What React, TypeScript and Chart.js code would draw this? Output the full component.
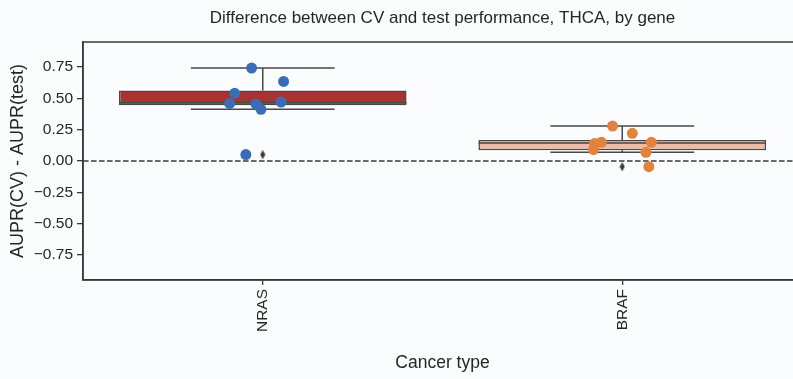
import { useEffect, useRef } from "react";
import { Chart, registerables } from "chart.js";

Chart.register(...registerables);

// Per-gene AUPR(CV) - AUPR(test) differences, one value per model run
const genes = ["NRAS", "BRAF"];
const nrasDiff = [0.742, 0.635, 0.54, 0.46, 0.455, 0.413, 0.471, 0.051];
const brafDiff = [0.279, 0.221, 0.149, 0.139, 0.091, 0.149, 0.069, -0.045];
// horizontal strip-plot jitter, in category units
const nrasJitter = [-0.031, 0.058, -0.078, -0.092, -0.019, -0.005, 0.051, -0.047];
const brafJitter = [-0.027, 0.028, -0.058, -0.077, -0.08, 0.081, 0.066, 0.074];
const yTicks = [-0.75, -0.5, -0.25, 0, 0.25, 0.5, 0.75];

const boxFill = ["#a83232", "#efbba6"];
const pointColor = ["#3b6cb6", "#e3823f"];
const lineColor = "#474747";
const frameColor = "#3a3a3a";
const textColor = "#262626";
const FONT = "'Liberation Sans', Arial, Helvetica, sans-serif";

function quantile(sorted: number[], q: number) {
  const pos = (sorted.length - 1) * q;
  const lo = Math.floor(pos);
  const hi = Math.ceil(pos);
  return sorted[lo] + (sorted[hi] - sorted[lo]) * (pos - lo);
}

function boxStats(values: number[]) {
  const s = [...values].sort((a, b) => a - b);
  const q1 = quantile(s, 0.25);
  const med = quantile(s, 0.5);
  const q3 = quantile(s, 0.75);
  const iqr = q3 - q1;
  const inside = s.filter((v) => v >= q1 - 1.5 * iqr && v <= q3 + 1.5 * iqr);
  return {
    q1,
    med,
    q3,
    lo: Math.min(...inside),
    hi: Math.max(...inside),
    outliers: s.filter((v) => v < q1 - 1.5 * iqr || v > q3 + 1.5 * iqr),
  };
}

function diamondMarker() {
  const c = document.createElement("canvas");
  c.width = 6;
  c.height = 10;
  const ctx = c.getContext("2d")!;
  ctx.fillStyle = "#3a3a3a";
  ctx.beginPath();
  ctx.moveTo(3, 0.5);
  ctx.lineTo(5.6, 5);
  ctx.lineTo(3, 9.5);
  ctx.lineTo(0.4, 5);
  ctx.closePath();
  ctx.fill();
  return c;
}

const frame = {
  id: "frame",
  beforeDatasetsDraw(chart: any) {
    const { ctx, chartArea: a } = chart;
    ctx.save();
    ctx.strokeStyle = frameColor;
    ctx.lineWidth = 1.5;
    ctx.strokeRect(a.left, a.top, a.right - a.left, a.bottom - a.top);
    ctx.restore();
  },
};

export default function App() {
  const ref = useRef<HTMLCanvasElement | null>(null);

  useEffect(() => {
    if (!ref.current) return;
    const groups = [nrasDiff, brafDiff];
    const jitters = [nrasJitter, brafJitter];
    const stats = groups.map(boxStats);

    const whiskers: any[] = [];
    const gap = (x: number) => ({ x, y: null });
    stats.forEach((st, i) => {
      whiskers.push(
        { x: i - 0.2, y: st.hi }, { x: i + 0.2, y: st.hi }, gap(i),
        { x: i, y: st.q3 }, { x: i, y: st.hi }, gap(i),
        { x: i, y: st.q1 }, { x: i, y: st.lo }, gap(i),
        { x: i - 0.2, y: st.lo }, { x: i + 0.2, y: st.lo }, gap(i),
        { x: i - 0.4, y: st.med }, { x: i + 0.4, y: st.med }, gap(i)
      );
    });

    const outliers: any[] = [];
    stats.forEach((st, i) => st.outliers.forEach((v) => outliers.push({ x: i, y: v })));

    const fmt = (v: number) => v.toFixed(2).replace("-", "\u2212");

    const chart = new Chart(ref.current, {
      type: "bar",
      data: {
        datasets: [
          ...groups.map((vals, i) => ({
            type: "scatter" as const,
            data: vals.map((v, k) => ({ x: i + jitters[i][k], y: v })),
            backgroundColor: pointColor[i],
            borderWidth: 0,
            pointRadius: 5.5,
            order: 0,
          })),
          {
            type: "scatter" as const,
            data: outliers,
            pointStyle: diamondMarker(),
            pointRadius: 5,
            order: 0,
          },
          {
            type: "line" as const,
            data: whiskers,
            borderColor: lineColor,
            borderWidth: 1.5,
            pointRadius: 0,
            spanGaps: false,
            fill: false,
            order: 1,
          },
          {
            type: "bar" as const,
            data: stats.map((st, i) => ({ x: i, y: [st.q1, st.q3] })),
            backgroundColor: boxFill,
            borderColor: lineColor,
            borderWidth: 1.5,
            borderSkipped: false,
            barPercentage: 0.8,
            categoryPercentage: 1,
            order: 2,
          },
          {
            type: "line" as const,
            data: [{ x: -0.5, y: 0 }, { x: 1.5, y: 0 }],
            borderColor: "#3a3a3a",
            borderWidth: 1.5,
            borderDash: [5.5, 2.5],
            pointRadius: 0,
            fill: false,
            order: 3,
          },
        ] as any,
      },
      options: {
        animation: false,
        responsive: false,
        layout: { padding: { left: 0, right: 8, top: 0, bottom: 0 } },
        plugins: {
          legend: { display: false },
          tooltip: { enabled: false },
          title: {
            display: true,
            text: "Difference between CV and test performance, THCA, by gene",
            fullSize: false,
            color: textColor,
            font: { family: FONT, size: 17, weight: "normal" },
            padding: { top: 7.8, bottom: 13.8 },
          },
        },
        scales: {
          x: {
            type: "linear",
            min: -0.5,
            max: 1.5,
            offset: false,
            afterBuildTicks: (s: any) => {
              s.ticks = genes.map((_, i) => ({ value: i }));
            },
            afterFit: (s: any) => {
              s.height = 99;
            },
            grid: {
              display: true,
              offset: false,
              drawOnChartArea: false,
              drawTicks: true,
              tickLength: 5,
              color: frameColor,
              lineWidth: 1.3,
            },
            border: { display: true, color: frameColor, width: 1.5 },
            ticks: {
              autoSkip: false,
              minRotation: 90,
              maxRotation: 90,
              padding: 4,
              color: textColor,
              font: { family: FONT, size: 15.5 },
              callback: (v: any) => genes[Number(v)] ?? "",
            },
            title: {
              display: true,
              text: "Cancer type",
              color: textColor,
              font: { family: FONT, size: 17.5 },
              padding: { top: 4, bottom: 5.5 },
            },
          },
          y: {
            type: "linear",
            min: -0.95,
            max: 0.95,
            afterBuildTicks: (s: any) => {
              s.ticks = yTicks.map((v) => ({ value: v }));
            },
            afterFit: (s: any) => {
              s.width = 83;
            },
            grid: {
              display: true,
              drawOnChartArea: false,
              drawTicks: true,
              tickLength: 6,
              color: frameColor,
              lineWidth: 1.3,
            },
            border: { display: true, color: frameColor, width: 1.5 },
            ticks: {
              padding: 4,
              color: textColor,
              font: { family: FONT, size: 15.5 },
              callback: (v: any) => fmt(Number(v)),
            },
            title: {
              display: true,
              text: "AUPR(CV) - AUPR(test)",
              color: textColor,
              font: { family: FONT, size: 18 },
              padding: { top: 7.7, bottom: 0 },
            },
          },
        },
      } as any,
      plugins: [frame],
    });
    return () => chart.destroy();
  }, []);

  return (
    <div
      style={{
        position: "fixed",
        left: 0,
        top: 0,
        width: 793,
        height: 379,
        overflow: "hidden",
        background: "#fbfcfe",
      }}
    >
      <canvas ref={ref} width={810} height={379} style={{ display: "block", width: 810, height: 379 }} />
    </div>
  );
}
